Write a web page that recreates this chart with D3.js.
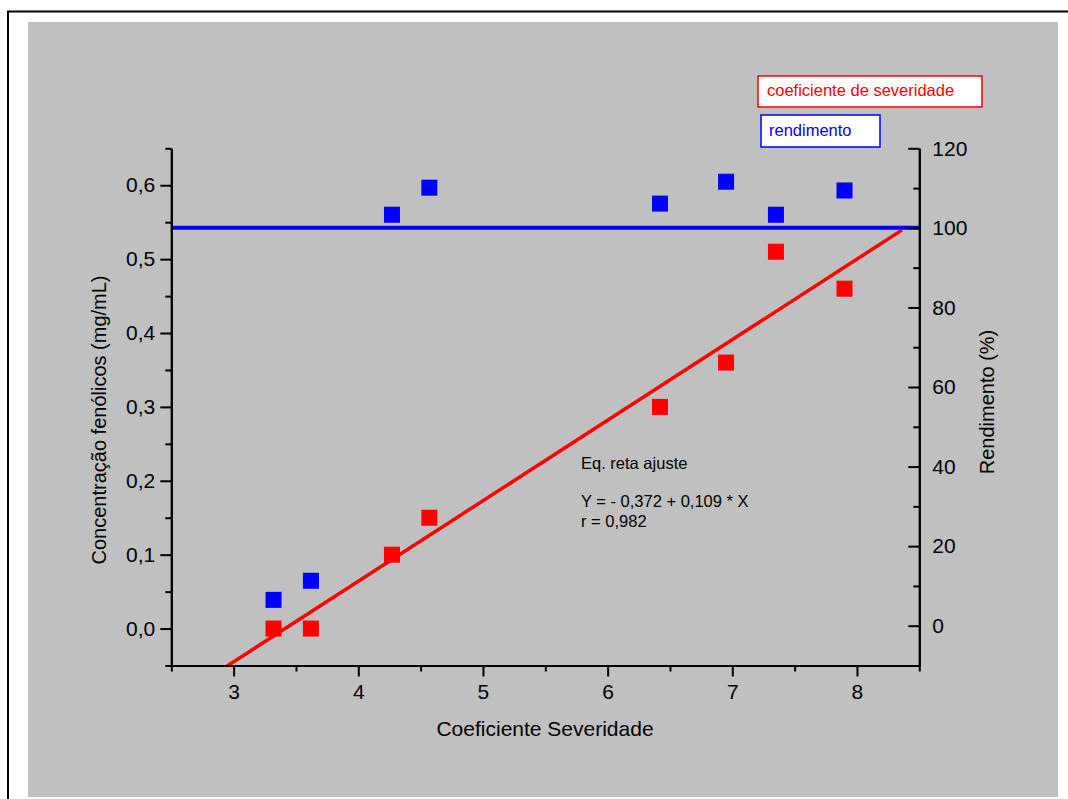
<!DOCTYPE html>
<html>
<head>
<meta charset="utf-8">
<script src="https://cdn.jsdelivr.net/npm/d3@7"></script>
<style>
  body { margin: 0; background: #fff; }
  text { font-family: "Liberation Sans", Arial, sans-serif; }
  .axis path, .axis line { stroke: #000; stroke-width: 2; }
  .axis text { font-size: 21px; fill: #000; font-family: "Liberation Sans", Arial, sans-serif; }
</style>
</head>
<body>
<div id="chart"></div>
<script>
// data
var severidade = [3.32, 3.62, 4.27, 4.57, 6.42, 6.95, 7.35, 7.90];
var fenolicos = [0.00, 0.00, 0.10, 0.15, 0.30, 0.36, 0.51, 0.46];
var rendimento = [6.5, 11.3, 103.3, 110.1, 106.1, 111.6, 103.3, 109.4];
var refRendimento = 100;
var fitIntercept = -0.372;
var fitSlope = 0.109;
var fitXRange = [2.5, 8.36];

var xTicks = [3, 4, 5, 6, 7, 8];
var xMinor = [2.5, 3.5, 4.5, 5.5, 6.5, 7.5, 8.5];
var leftTicks = [0, 0.1, 0.2, 0.3, 0.4, 0.5, 0.6];
var leftMinor = [-0.05, 0.05, 0.15, 0.25, 0.35, 0.45, 0.55, 0.65];
var rightTicks = [0, 20, 40, 60, 80, 100, 120];
var rightMinor = [-10, 10, 30, 50, 70, 90, 110];

var legendLabels = ['coeficiente de severidade', 'rendimento'];
var annotation = ['Eq. reta ajuste', '', 'Y = - 0,372 + 0,109 * X', 'r = 0,982'];

var svgWidth = 1068;
var svgHeight = 799;

var margin = { top: 148.3, left: 171.3 };
var width = 748;
var height = 517.2;

var svg = d3.select('#chart')
    .append('svg')
    .attr('width', svgWidth)
    .attr('height', svgHeight);

// page frame and grey background
svg.append('rect')
    .attr('x', 8).attr('y', 11.5)
    .attr('width', 1200).attr('height', 1000)
    .attr('fill', 'none')
    .attr('stroke', '#000')
    .attr('stroke-width', 2);

svg.append('rect')
    .attr('x', 28).attr('y', 22)
    .attr('width', 1030).attr('height', 775)
    .attr('fill', '#c0c0c0');

var chartGroup = svg.append('g')
    .attr('transform', `translate(${margin.left}, ${margin.top})`);

var xScale = d3.scaleLinear().domain([2.5, 8.5]).range([0, width]);
var yLeft = d3.scaleLinear().domain([-0.05, 0.65]).range([height, 0]);
var yRight = d3.scaleLinear().domain([-10, 120]).range([height, 0]);

var comma = d => d3.format('.1f')(d).replace('.', ',');

chartGroup.append('clipPath')
    .attr('id', 'plotClip')
    .append('rect')
    .attr('width', width)
    .attr('height', height);

// reference line (rendimento 100%)
chartGroup.append('line')
    .attr('x1', 0)
    .attr('x2', width)
    .attr('y1', yRight(refRendimento))
    .attr('y2', yRight(refRendimento))
    .attr('stroke', '#0000ff')
    .attr('stroke-width', 4);

// fitted line
var fitLine = d3.line()
    .x(d => xScale(d))
    .y(d => yLeft(fitIntercept + fitSlope * d));

chartGroup.append('path')
    .datum(fitXRange)
    .attr('d', fitLine)
    .attr('clip-path', 'url(#plotClip)')
    .attr('fill', 'none')
    .attr('stroke', '#ff0000')
    .attr('stroke-width', 3.5);

// axes
chartGroup.append('g')
    .attr('class', 'axis')
    .attr('transform', `translate(0, ${height})`)
    .call(d3.axisBottom(xScale).tickValues(xMinor).tickSize(6).tickSizeOuter(0).tickFormat(''));

chartGroup.append('g')
    .attr('class', 'axis')
    .attr('transform', `translate(0, ${height})`)
    .call(d3.axisBottom(xScale).tickValues(xTicks).tickSize(11).tickSizeOuter(0).tickPadding(8).tickFormat(d3.format('d')));

chartGroup.append('g')
    .attr('class', 'axis')
    .call(d3.axisLeft(yLeft).tickValues(leftMinor).tickSize(6).tickSizeOuter(0).tickFormat(''));

chartGroup.append('g')
    .attr('class', 'axis')
    .call(d3.axisLeft(yLeft).tickValues(leftTicks).tickSize(11).tickSizeOuter(0).tickPadding(5).tickFormat(comma));

chartGroup.append('g')
    .attr('class', 'axis')
    .attr('transform', `translate(${width}, 0)`)
    .call(d3.axisRight(yRight).tickValues(rightMinor).tickSize(-6).tickSizeOuter(0).tickFormat(''));

chartGroup.append('g')
    .attr('class', 'axis')
    .attr('transform', `translate(${width}, 0)`)
    .call(d3.axisRight(yRight).tickValues(rightTicks).tickSize(-11).tickSizeOuter(0).tickPadding(13).tickFormat(d3.format('d')));

// markers
var sq = 16;
chartGroup.selectAll('rect.fen')
    .data(severidade)
    .enter()
    .append('rect')
    .attr('class', 'fen')
    .attr('x', d => xScale(d) - sq / 2)
    .attr('y', (d, i) => yLeft(fenolicos[i]) - sq / 2)
    .attr('width', sq)
    .attr('height', sq)
    .attr('fill', '#ff0000');

chartGroup.selectAll('rect.ren')
    .data(severidade)
    .enter()
    .append('rect')
    .attr('class', 'ren')
    .attr('x', d => xScale(d) - sq / 2)
    .attr('y', (d, i) => yRight(rendimento[i]) - sq / 2)
    .attr('width', sq)
    .attr('height', sq)
    .attr('fill', '#0000ff');

// axis titles
svg.append('text')
    .attr('transform', 'translate(545, 736)')
    .attr('text-anchor', 'middle')
    .style('font-size', '21px')
    .text('Coeficiente Severidade');

svg.append('text')
    .attr('transform', 'translate(106, 420) rotate(-90)')
    .attr('text-anchor', 'middle')
    .style('font-size', '20px')
    .text('Concentração fenólicos (mg/mL)');

svg.append('text')
    .attr('transform', 'translate(994, 402) rotate(-90)')
    .attr('text-anchor', 'middle')
    .style('font-size', '20px')
    .text('Rendimento (%)');

// legend boxes
var legendBoxes = [
    { x: 758, y: 76, w: 224, h: 31, tx: 767, ty: 96, color: '#ff0000' },
    { x: 761, y: 115, w: 119, h: 32, tx: 769, ty: 135.5, color: '#0000ff' }
];
legendBoxes.forEach(function(b, i) {
    svg.append('rect')
        .attr('x', b.x).attr('y', b.y)
        .attr('width', b.w).attr('height', b.h)
        .attr('fill', '#fff')
        .attr('stroke', b.color)
        .attr('stroke-width', 1.5);
    svg.append('text')
        .attr('x', b.tx).attr('y', b.ty)
        .attr('fill', b.color)
        .style('font-size', '16.5px')
        .text(legendLabels[i]);
});

// fit annotation
var noteY = [469, 488, 507, 527];
annotation.forEach(function(t, i) {
    svg.append('text')
        .attr('x', 581)
        .attr('y', noteY[i])
        .style('font-size', '16.5px')
        .text(t);
});
</script>
</body>
</html>
